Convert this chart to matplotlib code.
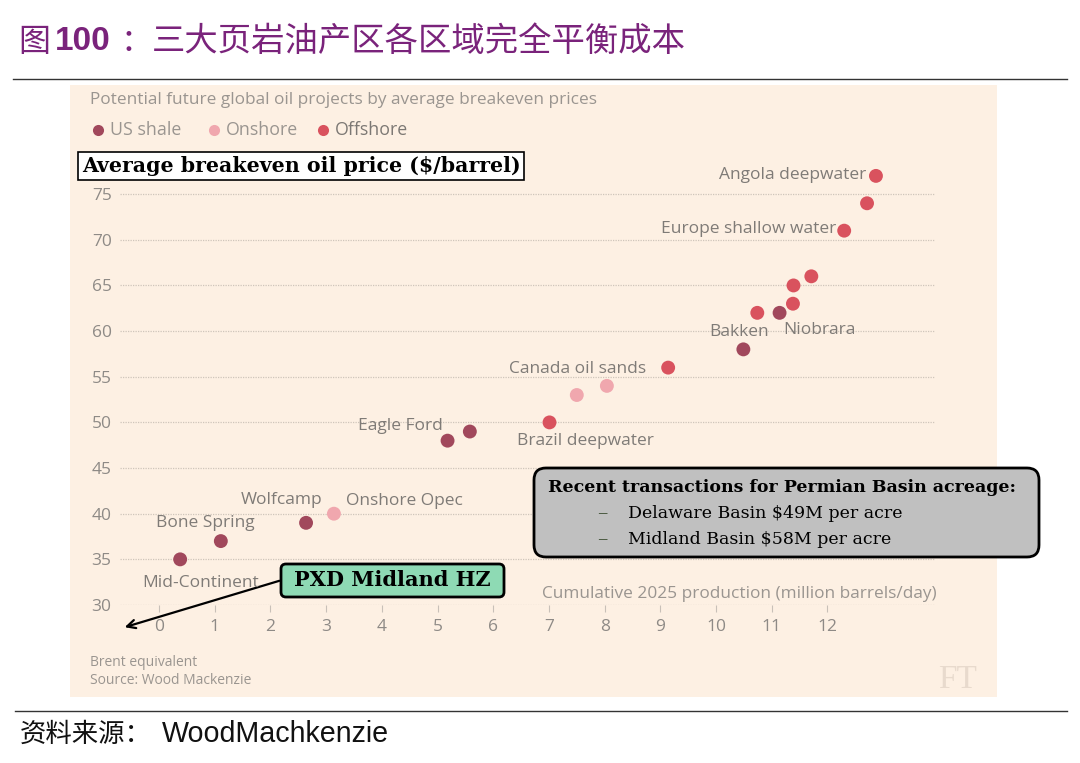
import numpy as np
import matplotlib
matplotlib.use("Agg")
import matplotlib.pyplot as plt
from matplotlib.patches import Rectangle, FancyBboxPatch

# data (cumulative production, breakeven price)
us_shale_x = [0.38, 1.11, 2.64, 5.18, 5.58, 10.49, 11.14]
us_shale_y = [35, 37, 39, 48, 49, 58, 62]
onshore_x = [3.14, 7.50, 8.04]
onshore_y = [40, 53, 54]
offshore_x = [7.01, 9.14, 10.74, 11.38, 11.39, 11.71, 12.30, 12.71, 12.87]
offshore_y = [50, 56, 62, 63, 65, 66, 71, 74, 77]

label_names = ["Mid-Continent", "Bone Spring", "Wolfcamp", "Onshore Opec", "Eagle Ford",
               "Brazil deepwater", "Canada oil sands", "Bakken", "Niobrara",
               "Europe shallow water", "Angola deepwater"]
label_x = [0.38, 1.11, 2.64, 3.14, 5.18, 7.01, 9.14, 10.49, 11.14, 12.30, 12.87]
label_y = [35, 37, 39, 40, 48, 50, 56, 58, 62, 71, 77]
# label placement: offset in pixels and alignment
label_off = [(20, -24, "center"), (-16, 18, "center"), (16, 23, "right"), (12, 13, "left"),
             (-5, 15, "right"), (-33, -19, "left"), (-22, -1, "right"), (-4, 17, "center"),
             (4, -17, "left"), (-8, 2, "right"), (-10, 1, "right")]

y_ticks = [30, 35, 40, 45, 50, 55, 60, 65, 70, 75]
x_ticks = list(range(13))

C_SHALE = "#a1485c"
C_ON = "#f0a7ae"
C_OFF = "#d9525e"
GRAY = "#8e8a86"
PANEL = "#fdf0e3"
PURPLE = "#7a237b"
SANS = "Open Sans"
SERIF = "DejaVu Serif"

W, H = 1080, 763
fig = plt.figure(figsize=(W / 100, H / 100), dpi=100)
T = fig.dpi_scale_trans


def P(px, py):
    return px / 100, (H - py) / 100


def ftext(px, py, s, **kw):
    x, y = P(px, py)
    return fig.text(x, y, s, transform=T, **kw)


# top title and rules
ftext(18, 42, "图", fontsize=23, color=PURPLE, family="Noto Sans CJK SC", weight="medium", va="center")
ftext(55, 42, "100", fontsize=24, color=PURPLE, family="Liberation Sans", weight="bold", va="center")
ftext(120, 42, "：", fontsize=23, color=PURPLE, family="Noto Sans CJK SC", va="center")
ftext(152, 42, "三大页岩油产区各区域完全平衡成本", fontsize=24, color=PURPLE,
      family="Noto Sans CJK SC", weight="medium", va="center")
fig.add_artist(plt.Line2D([P(13, 0)[0], P(1067, 0)[0]], [P(0, 79)[1]] * 2, transform=T, color="#333333", lw=1))
fig.add_artist(plt.Line2D([P(15, 0)[0], P(1067, 0)[0]], [P(0, 711)[1]] * 2, transform=T, color="#333333", lw=1))
ftext(20, 734, "资料来源：", fontsize=19, family="Noto Sans CJK SC", va="center", color="#111111")
ftext(162, 734, "WoodMachkenzie", fontsize=20.6, family="Liberation Sans", va="center", color="#111111")

# FT panel
x0, y0 = P(70, 697)
fig.add_artist(Rectangle((x0, y0), 9.27, 6.12, transform=T, fc=PANEL, ec="none", zorder=0))
ftext(90, 100, "Potential future global oil projects by average breakeven prices",
      fontsize=12.4, family=SANS, color="#9a9590", va="center")
for cx, lab, c, tc in [(98, "US shale", C_SHALE, "#9a9590"), (214, "Onshore", C_ON, "#9a9590"),
                       (323, "Offshore", C_OFF, "#7c7874")]:
    x, y = P(cx, 130)
    fig.add_artist(plt.Line2D([x], [y], transform=T, marker="o", ms=8, color=c, mec="none"))
    ftext(cx + 12, 130, lab, fontsize=12.8, family=SANS, color=tc, va="center")

ftext(90, 663, "Brent equivalent", fontsize=10, family=SANS, color="#9a9590", va="center")
ftext(90, 680, "Source: Wood Mackenzie", fontsize=10, family=SANS, color="#9a9590", va="center")
ftext(958, 680, "FT", fontsize=24, family="Liberation Serif", color="#e8dacd", va="center", ha="center")

# main axes
ax = fig.add_axes([120 / W, (H - 605) / H, 815 / W, 445 / H])
ax.set_facecolor("none")
ax.set_xlim(-0.70, 13.93)
ax.set_ylim(30, 30 + 445 / 9.13)
for s in ax.spines.values():
    s.set_visible(False)
ax.set_yticks(y_ticks)
ax.set_xticks(x_ticks)
ax.yaxis.grid(True, color="#cfc5bb", lw=0.9, ls=(0, (1, 1)))
ax.set_axisbelow(True)
ax.tick_params(axis="y", length=0, pad=6, labelsize=12.5, labelcolor=GRAY)
ax.tick_params(axis="x", length=5, width=0.8, color="#c8c0b8", pad=5, labelsize=12.5, labelcolor=GRAY)
for t in ax.get_xticklabels() + ax.get_yticklabels():
    t.set_family(SANS)

ax.scatter(us_shale_x, us_shale_y, s=100, color=C_SHALE, edgecolors="none", zorder=3)
ax.scatter(onshore_x, onshore_y, s=100, color=C_ON, edgecolors="none", zorder=3)
ax.scatter(offshore_x, offshore_y, s=100, color=C_OFF, edgecolors="none", zorder=3)

for name, x, y, (dx, dy, ha) in zip(label_names, label_x, label_y, label_off):
    ax.annotate(name, (x, y), xytext=(dx, dy), textcoords="offset pixels", ha=ha, va="center",
                fontsize=12.5, family=SANS, color="#7f7b77", zorder=4)

ftext(542, 594, "Cumulative 2025 production (million barrels/day)", fontsize=12.4,
      family=SANS, color="#9a9590", va="center")

# y-axis title box
ftext(301, 166, "Average breakeven oil price ($/barrel)", fontsize=14.8, family=SERIF, weight="bold",
      ha="center", va="center", color="black",
      bbox=dict(boxstyle="square,pad=0.2", fc="white", ec="black", lw=1.2))

# PXD annotation
ax.annotate("", xy=P(122, 628), xycoords=T, xytext=P(282, 580), textcoords=T,
            arrowprops=dict(arrowstyle="->,head_length=0.6,head_width=0.3", color="black", lw=1.6),
            annotation_clip=False)
x, y = P(281, 597)
fig.add_artist(FancyBboxPatch((x, y), 2.23, 0.33, transform=T,
                              boxstyle="round,pad=0,rounding_size=0.05",
                              fc="#8edab4", ec="black", lw=2, zorder=5))
ftext(392, 580, "PXD Midland HZ", fontsize=15, family=SERIF, weight="bold", ha="center",
      va="center", color="black", zorder=6)

# Permian box
x, y = P(534, 557)
fig.add_artist(FancyBboxPatch((x, y), 5.05, 0.89, transform=T,
                              boxstyle="round,pad=0,rounding_size=0.12",
                              fc="#c0c0c0", ec="black", lw=2, zorder=5))
ftext(548, 487, "Recent transactions for Permian Basin acreage:", fontsize=12.5, family=SERIF,
      weight="bold", va="center", color="black", zorder=6)
for py, s in [(513, "Delaware Basin $49M per acre"), (540, "Midland Basin $58M per acre")]:
    ftext(597, py, "–", fontsize=15, family=SERIF, va="center", color="#4f5e46", zorder=6)
    ftext(628, py, s, fontsize=12.5, family=SERIF, va="center", color="black", zorder=6)

fig.savefig("out.png", dpi=100)
